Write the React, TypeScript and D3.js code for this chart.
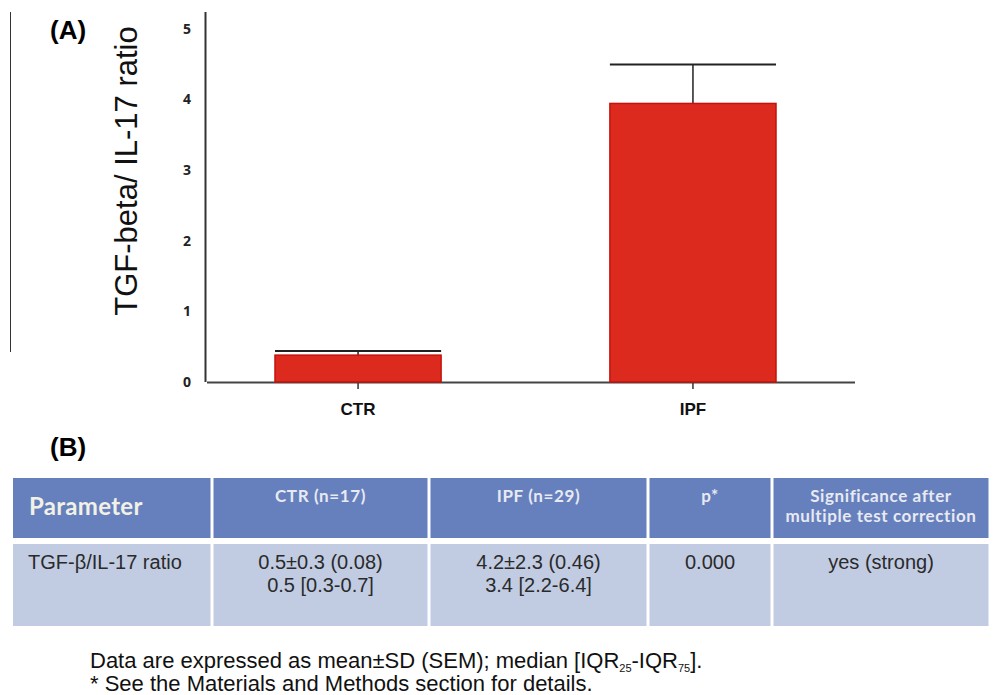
import * as d3 from 'd3'
import React from 'react'

const categories = ['CTR', 'IPF']
const means = [0.38, 3.94]
const errors = [0.06, 0.55]
const yTicks = [0, 1, 2, 3, 4, 5]

const headers = [['Parameter'], ['CTR (n=17)'], ['IPF (n=29)'], ['p*'], ['Significance after', 'multiple test correction']]
const row = [['TGF-β/IL-17 ratio'], ['0.5±0.3 (0.08)', '0.5 [0.3-0.7]'], ['4.2±2.3 (0.46)', '3.4 [2.2-6.4]'], ['0.000'], ['yes (strong)']]
const colEdges = [13, 212, 429, 648, 772, 990]

const y = d3.scaleLinear().domain([0, 5]).range([382, 28.5])
const x = d3.scaleBand().domain(categories).range([275, 776]).paddingInner(0.504)

const sans = 'Arial, "Liberation Sans", sans-serif'
const headFont = 'Lato, "Open Sans", sans-serif'

export default function App() {
  return (
    <svg width={993} height={695} style={{ position: 'absolute', left: 0, top: 0, background: '#fff' }}>
      {/* left edge line */}
      <line x1={10.5} x2={10.5} y1={12} y2={352} stroke="#333" strokeWidth={1} />

      <text x={50} y={39} fontFamily={sans} fontWeight="bold" fontSize={26}>(A)</text>
      <text x={50} y={456} fontFamily={sans} fontWeight="bold" fontSize={26}>(B)</text>

      <text transform="translate(137,171) rotate(-90)" textAnchor="middle" fontFamily={sans} fontSize={31} fill="#111">
        TGF-beta/ IL-17 ratio
      </text>

      {/* axes */}
      <line x1={205.5} x2={205.5} y1={12} y2={382} stroke="#333" strokeWidth={2} />
      <line x1={207} x2={855} y1={382.5} y2={382.5} stroke="#444" strokeWidth={2} />
      {yTicks.map((t) => (
        <text key={t} x={191} y={y(t) + 5} textAnchor="end" fontFamily='"Open Sans", sans-serif' fontWeight="bold" fontSize={14} fill="#222">
          {t}
        </text>
      ))}

      {categories.map((c, i) => {
        const x0 = x(c) ?? 0
        const cx = x0 + x.bandwidth() / 2
        return (
          <g key={c}>
            <line x1={cx} x2={cx} y1={y(means[i])} y2={y(means[i] + errors[i])} stroke="#222" strokeWidth={1.5} />
            <line x1={x0} x2={x0 + x.bandwidth()} y1={y(means[i] + errors[i])} y2={y(means[i] + errors[i])} stroke="#222" strokeWidth={2} />
            <rect x={x0} y={y(means[i])} width={x.bandwidth()} height={y(0) - y(means[i])} fill="#dd2a1e" stroke="#c4130b" strokeWidth={1.5} />
            <line x1={cx} x2={cx} y1={383} y2={389} stroke="#333" strokeWidth={1.5} />
            <text x={cx} y={415} textAnchor="middle" fontFamily={sans} fontWeight="bold" fontSize={17} fill="#111">
              {c}
            </text>
          </g>
        )
      })}

      {/* table */}
      {headers.map((h, i) => {
        const x0 = colEdges[i] + (i > 0 ? 1.5 : 0)
        const x1 = colEdges[i + 1] - 1.5
        const cx = (x0 + x1) / 2
        return (
          <g key={'h' + i}>
            <rect x={x0} y={478} width={x1 - x0} height={60} fill="#6680bd" />
            <rect x={x0} y={544} width={x1 - x0} height={82} fill="#c1cce3" />
            {i === 0 ? (
              <text x={29} y={515} fontFamily={headFont} fontWeight="bold" fontSize={24} letterSpacing={0.3} fill="#f2f1e6">
                {h[0]}
              </text>
            ) : (
              h.map((s, k) => (
                <text key={k} x={cx} y={502 + k * 20} textAnchor="middle" fontFamily={headFont} fontWeight="bold" fontSize={17} letterSpacing={0.6} fill="#e8eaf2">
                  {s}
                </text>
              ))
            )}
            {row[i].map((s, k) => (
              <text key={'r' + k} x={i === 0 ? 28 : cx} y={569 + k * 23} textAnchor={i === 0 ? 'start' : 'middle'} fontFamily={sans} fontSize={20} fill="#2a2a2a">
                {s}
              </text>
            ))}
          </g>
        )
      })}

      <text x={90} y={668} fontFamily={sans} fontSize={22} fill="#111">
        Data are expressed as mean±SD (SEM); median [IQR<tspan fontSize={11} dy={4}>25</tspan>
        <tspan dy={-4}>-IQR</tspan>
        <tspan fontSize={11} dy={4}>75</tspan>
        <tspan dy={-4}>].</tspan>
      </text>
      <text x={90} y={691} fontFamily={sans} fontSize={22} fill="#111">
        * See the Materials and Methods section for details.
      </text>
    </svg>
  )
}
